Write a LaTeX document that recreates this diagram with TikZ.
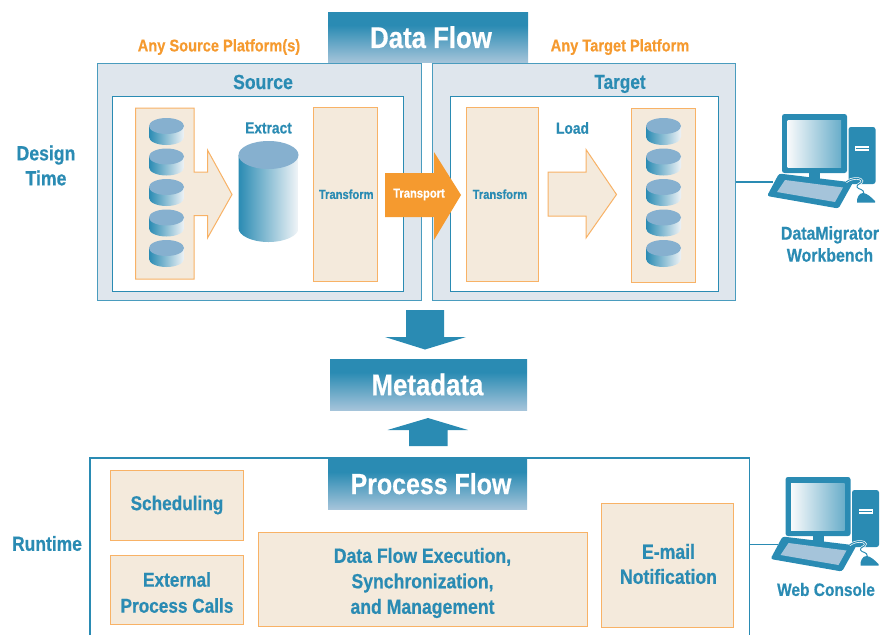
\documentclass[tikz,border=0pt]{standalone}
\usepackage{fontspec}
\setmainfont[FakeStretch=0.86,BoldFeatures={FakeBold=0.5}]{Liberation Sans}
\usetikzlibrary{calc}
\definecolor{ibblue}{HTML}{2A8BB3}
\definecolor{iblight}{HTML}{A5C4DA}
\definecolor{ibtop}{HTML}{86B0CF}
\definecolor{iborange}{HTML}{F59A2F}
\definecolor{ibedge}{HTML}{F8B266}
\definecolor{ibbeige}{HTML}{F4EADC}
\definecolor{ibpanel}{HTML}{DFE6ED}
\pgfdeclareverticalshading{titlegrad}{100bp}{color(0bp)=(iblight); color(25bp)=(iblight); color(62bp)=(ibblue); color(100bp)=(ibblue)}
\newcommand{\fs}[1]{\fontsize{#1}{#1}\selectfont\bfseries}
\newcommand{\fsl}[2]{\fontsize{#1}{#2}\selectfont\bfseries}
% name, x1, y1, x2, y2, style, text
\newcommand{\bx}[7]{\node[#6,minimum width={(#4-#2)*1pt},minimum height={(#5-#3)*1pt}] (#1) at ({(#2+#4)/2},{(#3+#5)/2}) {#7};}
\tikzset{
  x=1pt,y=-1pt,
  base/.style={inner sep=0pt,outer sep=0pt,align=center},
  panel/.style={base,draw=ibblue!85,fill=ibpanel,line width=1pt},
  inner/.style={base,draw=ibblue,fill=white,line width=1pt},
  beige/.style={base,draw=ibedge,fill=ibbeige,line width=1pt,text=ibblue},
  title/.style={base,shading=titlegrad,text=white},
  lbl/.style={base,text=ibblue},
  orangelbl/.style={base,text=iborange},
  flowshape/.style={draw=ibedge,fill=ibbeige,line width=1pt},
  pics/smalldb/.style={code={
    \shade[left color=ibblue,right color=ibpanel!50] (-17.5,0) -- (-17.5,11) .. controls (-17.5,15.4) and (-9.7,19) .. (0,19) .. controls (9.7,19) and (17.5,15.4) .. (17.5,11) -- (17.5,0) -- cycle;
    \fill[ibtop] (0,0) ellipse [x radius=17.5,y radius=8];
  }},
  pics/bigdb/.style={code={
    \shade[left color=ibblue,right color=ibpanel!40] (-30,0) -- (-30,73) .. controls (-30,80.7) and (-16.6,87) .. (0,87) .. controls (16.6,87) and (30,80.7) .. (30,73) -- (30,0) -- cycle;
    \fill[ibtop] (0,0) ellipse [x radius=30,y radius=14];
  }},
  pics/workstation/.style={code={
    \fill[ibblue,rounded corners=2.5pt] (782,114) rectangle (847,173);
    \shade[left color=ibpanel!20,right color=ibblue!70] (787.5,120) rectangle (841,167);
    \fill[ibblue] (809,173) rectangle (820,181);
    \fill[ibblue,rounded corners=2.5pt] (848.5,127) rectangle (875.5,184);
    \fill[white] (855,146) rectangle (869,151);
    \draw[ibblue,line width=.6pt] (855.5,148) -- (868.5,148);
    \fill[ibblue,rounded corners=2.5pt] (779,173.5) -- (853,182.5) -- (838.5,208.5) -- (767,196) -- cycle;
    \fill[iblight] (785,180) -- (843,187.5) -- (835,202) -- (777,192) -- cycle;
    \draw[white,line width=2.4pt] (846,182) .. controls (852,177) and (862,178) .. (862,181) .. controls (862,184) and (856,184) .. (857,187);
    \draw[ibblue,line width=1pt] (846,182) .. controls (852,177) and (862,178) .. (862,181) .. controls (862,184) and (856,184) .. (857,187) .. controls (858,190) and (864,188) .. (864,194);
    \fill[ibblue] (857,202.5) .. controls (856.5,198) and (859,193) .. (863,193) .. controls (867,193) and (872,198) .. (875,201) -- (875,202.5) -- cycle;
  }}
}
\begin{document}
\begin{tikzpicture}
\useasboundingbox (0,0) rectangle (882,635);
% panels
\bx{srcpanel}{97.5}{63.5}{421}{300}{panel}{}
\bx{tgtpanel}{432.5}{63.5}{735.5}{300}{panel}{}
\bx{srcinner}{112.5}{96.5}{403.5}{291}{inner}{}
\bx{tgtinner}{450.5}{96.5}{718.5}{291}{inner}{}
% titles
\bx{dataflow}{328}{12}{528}{62.5}{title,font=\fs{30}}{\hspace*{6pt}Data Flow}
\bx{metadata}{330}{359}{527}{410}{title,font=\fs{30}}{\hspace*{-2pt}Metadata}
% labels
\node[orangelbl,font=\fs{17}] (anysrc) at (219,47) {Any Source Platform(s)};
\node[orangelbl,font=\fs{17}] (anytgt) at (620,47) {Any Target Platform};
\node[lbl,font=\fs{20.5}] (srclbl) at (263,82) {Source};
\node[lbl,font=\fs{20}] (tgtlbl) at (620,84) {Target};
\node[lbl,font=\fsl{20.5}{25},text width=80pt] (design) at (46,165.5) {Design\\Time};
\node[lbl,font=\fs{20.3}] (runtime) at (47,543.5) {Runtime};
% source side
\draw[flowshape] (135.5,108) -- (194,108) -- (194,172) -- (207.5,172) -- (207.5,150) -- (232,194.5) -- (207.5,238) -- (207.5,215.5) -- (194,215.5) -- (194,279) -- (135.5,279) -- cycle;
\foreach \yy in {126,156.5,187,217.5,248} \pic at (166.5,\yy) {smalldb};
\pic at (268.5,155) {bigdb};
\node[lbl,font=\fs{16}] (extract) at (268.5,128) {Extract};
\bx{srctrans}{313}{107.5}{377.5}{281}{beige,font=\fs{13}}{\hspace*{2pt}Transform}
% target side
\bx{tgttrans}{466}{107.5}{538}{281}{beige,font=\fs{13}}{\hspace*{-4pt}Transform}
\node[lbl,font=\fs{16}] (load) at (572.5,128) {Load};
\draw[flowshape] (548,172) -- (586,172) -- (586,149.5) -- (616.5,194.5) -- (586,238) -- (586,216) -- (548,216) -- cycle;
\bx{tgtstack}{631}{108.5}{695}{282}{beige}{}
\foreach \yy in {126,156.5,187,217.5,248} \pic at (663.5,\yy) {smalldb};
% transport
\fill[iborange] (385,173) -- (434,173) -- (434,152) -- (461,195) -- (434,240) -- (434,217) -- (385,217) -- cycle;
\node[base,text=white,font=\fs{13}] (transport) at (419,194.5) {Transport};
% workstations
\pic at (0,0) {workstation};
\node[lbl,font=\fsl{18.5}{22},text width=120pt] (wb) at (830,244) {DataMigrator\\Workbench};
\coordinate (wbin) at (773,182);
\draw[ibblue,line width=1.6pt] (tgtpanel.east |- wbin) -- (wbin);
% arrows
\fill[ibblue] (406,310) -- (444,310) -- (444,337) -- (466,337) -- (425,349.5) -- (385,337) -- (406,337) -- cycle;
\fill[ibblue] (409,446) -- (447.5,446) -- (447.5,430) -- (468,430) -- (428,418) -- (387.5,430) -- (409,430) -- cycle;
% process
\draw[ibblue,line width=1.4pt] (90,635) -- (90,458) -- (749.5,458) -- (749.5,635);
\coordinate (procedge) at (749.5,544.5);
\bx{procflow}{328}{459}{527}{509}{title,font=\fs{29}}{\hspace*{7pt}\raisebox{1pt}{Process Flow}}
\bx{sched}{110.5}{470.5}{243}{540}{beige}{}
\node[lbl,font=\fs{20}] (schedt) at (177,505) {Scheduling};
\bx{extern}{110.5}{555}{243}{624.5}{beige}{}
\node[lbl,font=\fsl{20}{26}] (externt) at (177,592.5) {External\\Process Calls};
\bx{dfe}{258.5}{532}{587}{626}{beige}{}
\node[lbl,font=\fsl{20.5}{25.5}] (dfet) at (422.5,583) {Data Flow Execution,\\Synchronization,\\and Management};
\bx{email}{601}{503.5}{733.5}{627}{beige}{}
\node[lbl,font=\fsl{20.5}{25},text width=120pt] (emailt) at (668.5,564) {E-mail\\Notification};
\begin{scope}[shift={(3.5,363)}]
\pic at (0,0) {workstation};
\end{scope}
\coordinate (wcin) at (778,544.5);
\draw[ibblue,line width=1.6pt] (procedge) -- (wcin);
\node[lbl,font=\fs{18}] (wc) at (826,589.5) {Web Console};
\end{tikzpicture}
\end{document}
